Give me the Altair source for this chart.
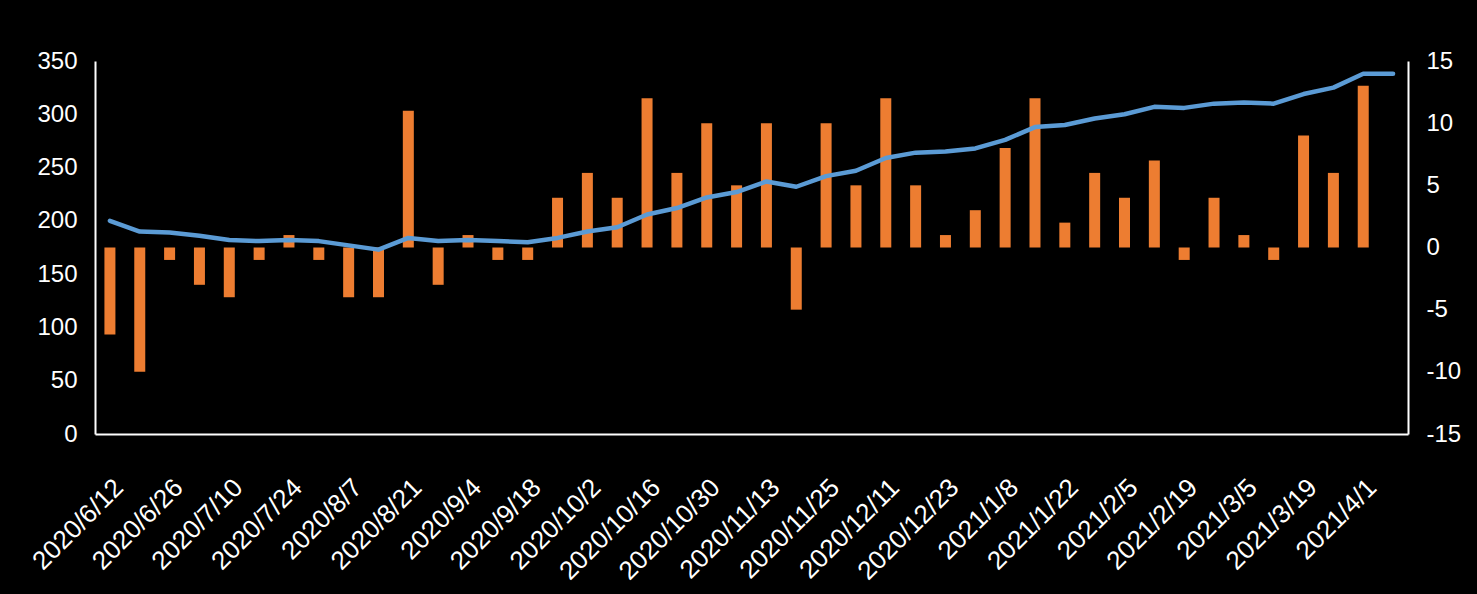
import altair as alt
import pandas as pd

dates = [
    "2020/6/12", "2020/6/19", "2020/6/26", "2020/7/3", "2020/7/10", "2020/7/17",
    "2020/7/24", "2020/7/31", "2020/8/7", "2020/8/14", "2020/8/21", "2020/8/28",
    "2020/9/4", "2020/9/11", "2020/9/18", "2020/9/25", "2020/10/2", "2020/10/9",
    "2020/10/16", "2020/10/23", "2020/10/30", "2020/11/6", "2020/11/13", "2020/11/20",
    "2020/11/25", "2020/12/4", "2020/12/11", "2020/12/18", "2020/12/23", "2020/12/31",
    "2021/1/8", "2021/1/15", "2021/1/22", "2021/1/29", "2021/2/5", "2021/2/12",
    "2021/2/19", "2021/2/26", "2021/3/5", "2021/3/12", "2021/3/19", "2021/3/26",
    "2021/4/1", "2021/4/9",
]
level = [
    200, 190, 189, 186, 182, 181, 182, 181, 177, 173, 184, 181,
    182, 181, 180, 184, 190, 194, 206, 212, 222, 227, 237, 232,
    242, 247, 259, 264, 265, 268, 276, 288, 290, 296, 300, 307,
    306, 310, 311, 310, 319, 325, 338, 338,
]
change = [
    -7, -10, -1, -3, -4, -1, 1, -1, -4, -4, 11, -3,
    1, -1, -1, 4, 6, 4, 12, 6, 10, 5, 10, -5,
    10, 5, 12, 5, 1, 3, 8, 12, 2, 6, 4, 7,
    -1, 4, 1, -1, 9, 6, 13, 0,
]
label_dates = dates[::2][:22]
left_ticks = [0, 50, 100, 150, 200, 250, 300, 350]
right_ticks = [-15, -10, -5, 0, 5, 10, 15]

df = pd.DataFrame({"date": dates, "level": level, "change": change})

x = alt.X(
    "date:N",
    sort=dates,
    scale=alt.Scale(paddingInner=0, paddingOuter=0),
    axis=alt.Axis(
        title=None,
        labelAngle=-45,
        labelAlign="right",
        labelBaseline="top",
        values=label_dates,
        labelPadding=40,
        labelOffset=0,
        labelFontSize=26,
    ),
)

bars = alt.Chart(df).mark_bar(size=11, color="#ED7D31").encode(
    x=x,
    y=alt.Y(
        "change:Q",
        scale=alt.Scale(domain=[-15, 15], nice=False, zero=False),
        axis=alt.Axis(title=None, orient="right", values=right_ticks,
                      labelExpr="'' + datum.value"),
    ),
)

line = alt.Chart(df).mark_line(color="#5B9BD5", strokeWidth=4.5, strokeCap="round",
                               strokeJoin="round").encode(
    x=x,
    y=alt.Y(
        "level:Q",
        scale=alt.Scale(domain=[0, 350], nice=False),
        axis=alt.Axis(title=None, orient="left", values=left_ticks),
    ),
)

chart = (
    alt.layer(bars, line)
    .resolve_scale(y="independent")
    .properties(
        width=1313,
        height=373,
        autosize=alt.AutoSizeParams(type="none"),
        padding={"left": 87, "top": 53, "right": 61, "bottom": 158},
        background="black",
    )
    .configure_view(stroke=None)
    .configure_axis(
        domainColor="white",
        domainWidth=2,
        ticks=False,
        grid=False,
        labelColor="white",
        labelFont="Liberation Sans",
        labelFontSize=24,
        labelPadding=18,
    )
)

chart.save("out.html", embed_options={"renderer": "svg", "actions": False})

# make the page margin black like the chart background
with open("out.html", encoding="utf-8") as fh:
    html = fh.read()
html = html.replace("<head>", "<head><style>html,body{background:#000;overflow:hidden;}</style>", 1)
with open("out.html", "w", encoding="utf-8") as fh:
    fh.write(html)
